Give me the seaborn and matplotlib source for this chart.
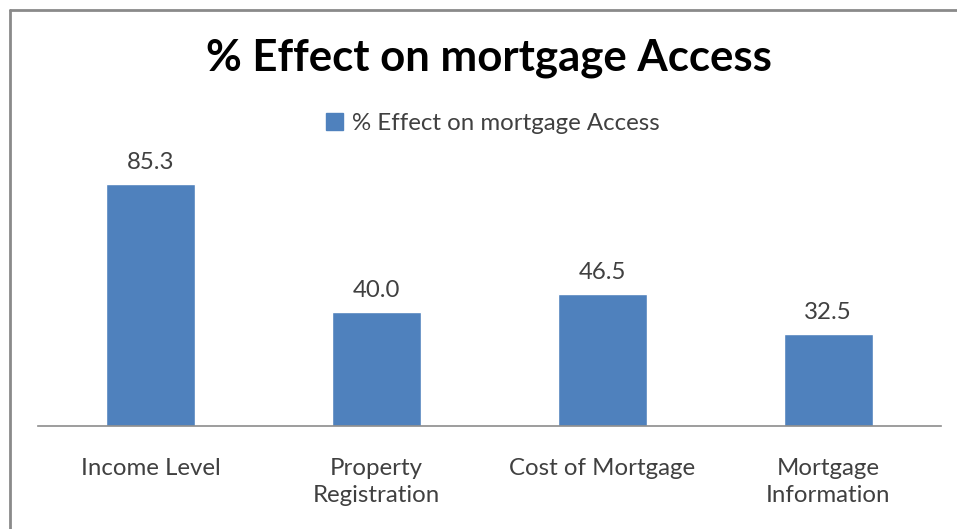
import matplotlib
matplotlib.use("Agg")
import matplotlib.pyplot as plt
from matplotlib.lines import Line2D
import seaborn as sns
import pandas as pd

categories = ["Income Level", "Property\nRegistration", "Cost of Mortgage", "Mortgage\nInformation"]
values = [85.3, 40.0, 46.5, 32.5]
series_name = "% Effect on mortgage Access"
title = "% Effect on mortgage Access"

sns.set_theme(style="white")
plt.rcParams["font.family"] = ["Lato", "DejaVu Sans"]

bar_color = "#4F81BD"
text_color = "#404040"

df = pd.DataFrame({"category": categories, "value": values})

fig = plt.figure(figsize=(9.57, 5.29), dpi=100)
ax = fig.add_axes([38 / 957, 1 - 426 / 529, (941 - 38) / 957, (426 - 144) / 529])

sns.barplot(data=df, x="category", y="value", color=bar_color, width=0.395,
            saturation=1, ax=ax)

ax.set_ylim(0, 99.3)
ax.set_xlim(-0.5, len(categories) - 0.5)
ax.set_xlabel("")
ax.set_ylabel("")
ax.set_yticks([])
for side in ["top", "right", "left"]:
    ax.spines[side].set_visible(False)
ax.spines["bottom"].set_color("#8c8c8c")
ax.spines["bottom"].set_linewidth(1.2)
ax.tick_params(axis="x", length=0, pad=23, labelsize=17.3, colors=text_color)
for lbl in ax.get_xticklabels():
    lbl.set_linespacing(1.38)

ax.bar_label(ax.containers[0], fmt="%.1f", padding=8, fontsize=17.3, color=text_color)

fig.text(0.511, 1 - 58 / 529, title, ha="center", va="center",
         fontsize=31.5, fontweight="bold", color="black")

handle = [plt.Rectangle((0, 0), 1, 1, color=bar_color)]
fig.legend(handle, [series_name], loc="center", bbox_to_anchor=(0.515, 1 - 123 / 529),
           frameon=False, fontsize=17.3, handlelength=0.7, handleheight=0.7,
           handletextpad=0.35, labelcolor=text_color)

# chart-area frame along the left and top edges
fig.add_artist(Line2D([9.5 / 957, 9.5 / 957], [0, 1 - 10 / 529],
                      transform=fig.transFigure, color="#8a8a8a", lw=2))
fig.add_artist(Line2D([9.5 / 957, 1], [1 - 10 / 529, 1 - 10 / 529],
                      transform=fig.transFigure, color="#8a8a8a", lw=2))

fig.savefig("out.png", dpi=100, facecolor="white")
